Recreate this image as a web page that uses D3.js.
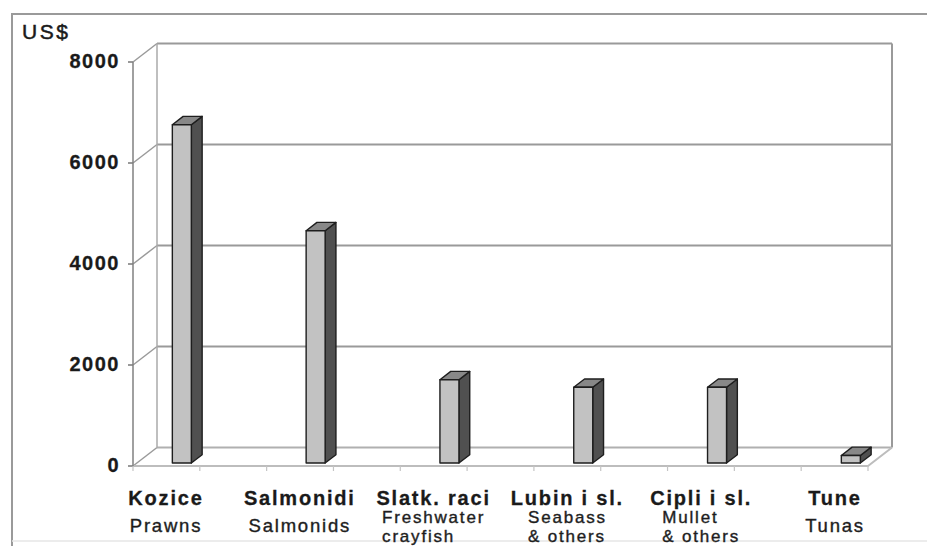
<!DOCTYPE html>
<html>
<head>
<meta charset="utf-8">
<script src="https://cdn.jsdelivr.net/npm/d3@7"></script>
<style>
  html, body { margin: 0; padding: 0; background: #fff; }
  svg { display: block; }
  text { font-family: "Liberation Sans", Arial, sans-serif; fill: #1a1a1a; }
</style>
</head>
<body>
<svg id="chart" width="927" height="546"></svg>
<script>
// Average value per category, US$
const categoriesHr = ["Kozice", "Salmonidi", "Slatk. raci", "Lubin i sl.", "Cipli i sl.", "Tune"];
const categoriesEn = [["Prawns"], ["Salmonids"], ["Freshwater", "crayfish"], ["Seabass", "& others"], ["Mullet", "& others"], ["Tunas"]];
const values = [6700, 4600, 1650, 1500, 1500, 150];
const yTicks = [0, 2000, 4000, 6000, 8000];
const unitLabel = "US$";

const svg = d3.select("#chart");

// Oblique 3D projection: depth z in [0,1] shifts right and up
const DX = 24, DY = -18.5;
const proj = (x, y, z) => [x + DX * z, y + DY * z];

const floorLeft = 133, floorRight = 868;
const y = d3.scaleLinear().domain([0, 8000]).range([466, 62]);
const x = d3.scalePoint().domain(categoriesHr).range([178, 847]);
const barW = 19;
const zFront = 0.16, zBack = 0.61;

// Outer frame
svg.append("path")
  .attr("d", "M12,546 L12,14 L927,14")
  .attr("fill", "none").attr("stroke", "#9a9a9a").attr("stroke-width", 2);
svg.append("line")
  .attr("x1", 12).attr("x2", 927).attr("y1", 541).attr("y2", 541)
  .attr("stroke", "#e6e6e6").attr("stroke-width", 1.5);

const grid = svg.append("g").attr("fill", "none");
const line = d3.line();
const yMax = y.domain()[1];

// Back wall gridlines and left wall diagonals
yTicks.forEach(v => {
  const yy = y(v);
  const b0 = proj(floorLeft, yy, 1), b1 = proj(floorRight, yy, 1);
  grid.append("path").attr("d", line([b0, b1]))
    .attr("stroke", v === 0 ? "#b0b0b0" : "#9a9a9a").attr("stroke-width", 2);
  grid.append("path").attr("d", line([[floorLeft, yy], b0]))
    .attr("stroke", "#9a9a9a").attr("stroke-width", 1.5);
  grid.append("path").attr("d", line([[floorLeft - 5, yy], [floorLeft, yy]]))
    .attr("stroke", "#777").attr("stroke-width", 1.5);
});

// Back wall side edges
grid.append("path").attr("d", line([proj(floorLeft, y(0), 1), proj(floorLeft, y(yMax), 1)]))
  .attr("stroke", "#aaaaaa").attr("stroke-width", 1.5);
grid.append("path").attr("d", line([proj(floorRight, y(0), 1), proj(floorRight, y(yMax), 1)]))
  .attr("stroke", "#9a9a9a").attr("stroke-width", 2);

// Floor front edge and right diagonal
grid.append("path").attr("d", line([[floorLeft, y(0)], [floorRight, y(0)], proj(floorRight, y(0), 1)]))
  .attr("stroke", "#bdbdbd").attr("stroke-width", 2);

// Category axis minor ticks
const tx = d3.scaleLinear().domain([0, 11]).range([floorLeft, floorRight]);
d3.range(12).forEach(k => {
  grid.append("path").attr("d", line([[tx(k), y(0)], [tx(k), y(0) + 5]]))
    .attr("stroke", "#c4c4c4").attr("stroke-width", 1.2);
});

// Value axis line
grid.append("path").attr("d", line([[floorLeft, y(0)], [floorLeft, y(yMax)]]))
  .attr("stroke", "#808080").attr("stroke-width", 1.5);

// Value tick labels
svg.append("g").selectAll("text").data(yTicks).join("text")
  .attr("x", 120).attr("y", d => y(d) + 1)
  .attr("text-anchor", "end").attr("dominant-baseline", "middle")
  .attr("font-size", 20).attr("font-weight", "bold").attr("letter-spacing", 1.5)
  .attr("stroke", "#1a1a1a").attr("stroke-width", 0.3)
  .text(d => d);

svg.append("text").attr("x", 22).attr("y", 39)
  .attr("font-size", 21).attr("letter-spacing", 2.5)
  .attr("stroke", "#1a1a1a").attr("stroke-width", 0.5)
  .text(unitLabel);

// 3D columns
const bars = svg.append("g").attr("stroke", "#1e1e1e").attr("stroke-width", 1.4).attr("stroke-linejoin", "round");
categoriesHr.forEach((c, i) => {
  const x0 = x(c) - barW / 2, x1 = x(c) + barW / 2;
  const yb = y(0), yt = y(values[i]);
  const fTL = proj(x0, yt, zFront), fTR = proj(x1, yt, zFront);
  const fBL = proj(x0, yb, zFront), fBR = proj(x1, yb, zFront);
  const bTL = proj(x0, yt, zBack), bTR = proj(x1, yt, zBack), bBR = proj(x1, yb, zBack);
  bars.append("path").attr("d", line([fTR, bTR, bBR, fBR]) + "Z").attr("fill", "#505050");
  bars.append("path").attr("d", line([fTL, bTL, bTR, fTR]) + "Z").attr("fill", "#888888");
  bars.append("path").attr("d", line([fTL, fTR, fBR, fBL]) + "Z").attr("fill", "#c2c2c2");
});

// Category labels
const labels = svg.append("g");
categoriesHr.forEach((c, i) => {
  const cx = x(c) - 12;
  labels.append("text").attr("x", cx).attr("y", 505)
    .attr("text-anchor", "middle").attr("font-size", 20).attr("font-weight", "bold")
    .attr("letter-spacing", 1.8).attr("stroke", "#1a1a1a").attr("stroke-width", 0.3)
    .text(c);
  const lines = categoriesEn[i];
  if (lines.length === 1) {
    labels.append("text").attr("x", cx).attr("y", 532)
      .attr("text-anchor", "middle").attr("font-size", 18.5).attr("letter-spacing", 1.8)
      .attr("fill", "#2a2a2a").attr("stroke", "#2a2a2a").attr("stroke-width", 0.4)
      .text(lines[0]);
  } else {
    const g = labels.append("g");
    const ts = lines.map((t, j) => g.append("text").attr("y", 523 + j * 19)
      .attr("font-size", 17).attr("letter-spacing", 1.8)
      .attr("fill", "#2a2a2a").attr("stroke", "#2a2a2a").attr("stroke-width", 0.4)
      .text(t));
    const w = d3.max(ts, t => t.node().getComputedTextLength());
    ts.forEach(t => t.attr("x", cx - w / 2));
  }
});
</script>
</body>
</html>
